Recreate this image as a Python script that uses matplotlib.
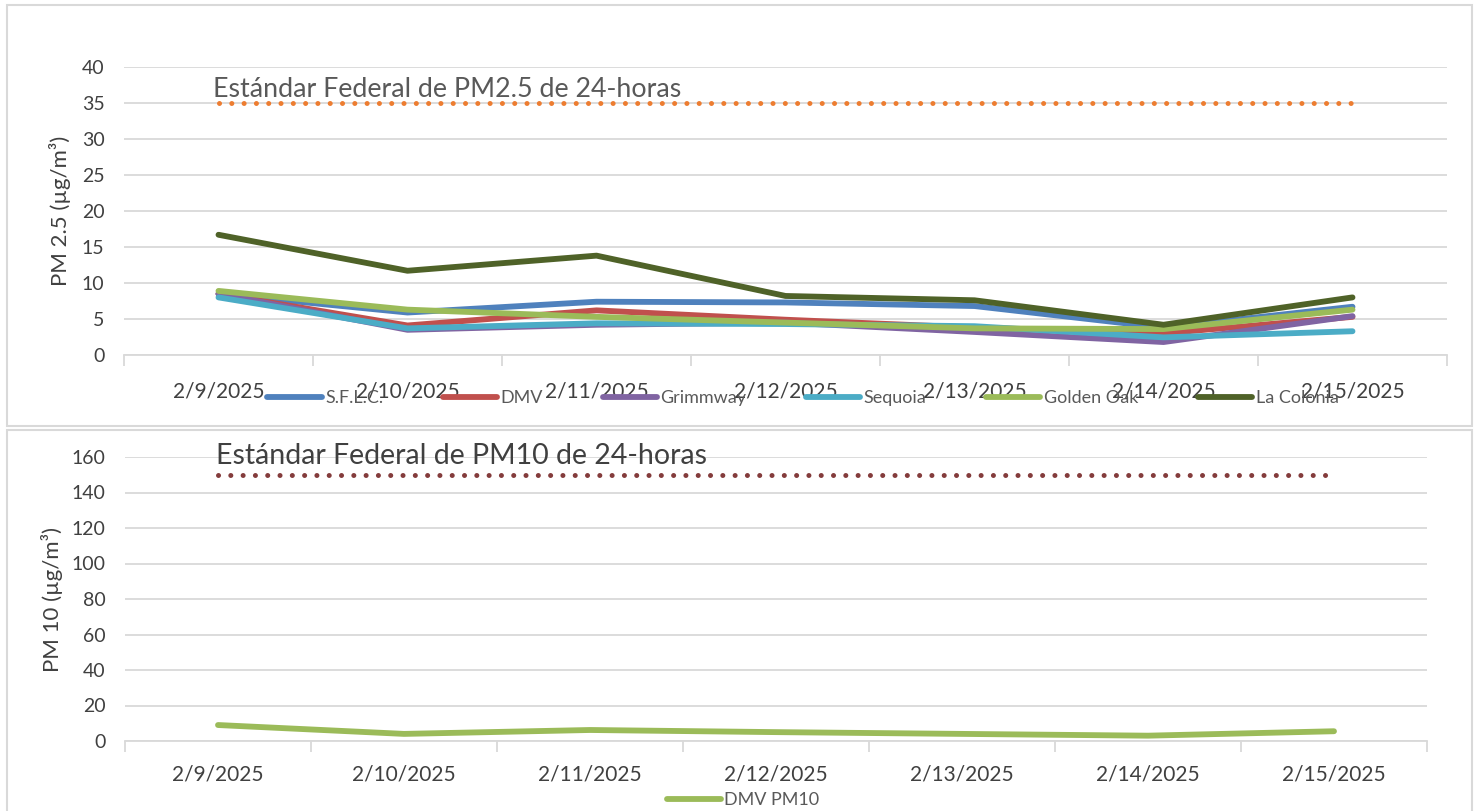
import matplotlib.pyplot as plt
from matplotlib.patches import Rectangle

plt.rcParams['font.family'] = ['Lato', 'DejaVu Sans']

dates = ['2/9/2025', '2/10/2025', '2/11/2025', '2/12/2025', '2/13/2025', '2/14/2025', '2/15/2025']

sflc = [8.5, 5.9, 7.4, 7.3, 6.8, 3.8, 6.7]
dmv = [8.5, 4.1, 6.2, 4.9, 3.8, 3.0, 5.3]
grimmway = [8.5, 3.5, 4.2, 4.5, 3.2, 1.8, 5.4]
sequoia = [8.0, 3.7, 4.4, 4.3, 4.0, 2.45, 3.3]
golden_oak = [8.9, 6.3, 5.3, 4.5, 3.7, 3.6, 6.3]
la_colonia = [16.7, 11.7, 13.8, 8.2, 7.6, 4.2, 8.0]

dmv_pm10 = [9.0, 4.0, 6.2, 5.0, 4.0, 3.0, 5.5]

pm25_std = 35
pm10_std = 150

W, H = 1477, 811
fig = plt.figure(figsize=(W / 100, H / 100), dpi=100)

grid_c = '#D9D9D9'
txt_c = '#404040'


def px_axes(left, top, right, bottom):
    return fig.add_axes([left / W, 1 - bottom / H, (right - left) / W, (bottom - top) / H])


# panel frames
fig.patches.append(Rectangle((7 / W, 1 - 426 / H), 1465 / W, 421 / H, transform=fig.transFigure,
                             fill=False, edgecolor=grid_c, lw=1.5))
fig.patches.append(Rectangle((7 / W, 1 - 815 / H), 1465 / W, 385 / H, transform=fig.transFigure,
                             fill=False, edgecolor=grid_c, lw=1.5))


def style(ax, ymax, step):
    ax.set_xlim(-0.5, 6.5)
    ax.set_ylim(0, ymax)
    ax.set_yticks(range(0, ymax + 1, step))
    ax.grid(axis='y', color=grid_c, lw=1.3)
    ax.set_axisbelow(True)
    for s in ['top', 'right', 'left']:
        ax.spines[s].set_visible(False)
    ax.spines['bottom'].set_color(grid_c)
    ax.spines['bottom'].set_linewidth(1.3)
    ax.set_xticks(range(7))
    ax.set_xticklabels(dates)
    ax.set_xticks([i - 0.5 for i in range(8)], minor=True)
    ax.tick_params(axis='x', which='major', length=0, labelsize=15, labelcolor=txt_c)
    ax.tick_params(axis='x', which='minor', length=8, color=grid_c, width=1.3)
    ax.tick_params(axis='y', length=0, labelsize=14, labelcolor=txt_c, pad=14)


x = list(range(7))
dots = (0, (0.01, 2.45))

# top panel
ax1 = px_axes(124, 67, 1447, 355)
style(ax1, 40, 5)
ax1.plot([0, 6], [pm25_std, pm25_std], color='#ED7D31', lw=3.6,
         linestyle=dots, dash_capstyle='round')
series = [('S.F.L.C.', sflc, '#4F81BD'), ('DMV', dmv, '#C0504D'),
          ('Grimmway', grimmway, '#8064A2'), ('Sequoia', sequoia, '#4BACC6'),
          ('Golden Oak', golden_oak, '#9BBB59'), ('La Colonia', la_colonia, '#4F6228')]
handles = []
for name, vals, c in series:
    ln, = ax1.plot(x, vals, color=c, lw=4.2, label=name, solid_capstyle='round')
    handles.append(ln)
ax1.text(-0.03, 36.9, 'Estándar Federal de PM2.5 de 24-horas', fontsize=19.3,
         color='#595959', va='center', ha='left')
ax1.set_ylabel('PM 2.5 (µg/m³)', fontsize=16, color=txt_c, labelpad=8)
ax1.xaxis.set_tick_params(pad=19)
fig.legend(handles=handles, loc='center', bbox_to_anchor=(803 / W, 1 - 398 / H), ncol=6,
           frameon=False, fontsize=13, labelcolor='#595959', handlelength=3.0,
           handletextpad=0.2, columnspacing=3.3)

# bottom panel
ax2 = px_axes(125, 457, 1427, 741)
style(ax2, 160, 20)
ax2.plot([0, 6], [pm10_std, pm10_std], color='#843C3C', lw=3.6,
         linestyle=dots, dash_capstyle='round')
ln2, = ax2.plot(x, dmv_pm10, color='#9BBB59', lw=4.2, label='DMV PM10', solid_capstyle='round')
ax2.text(-0.01, 160.5, 'Estándar Federal de PM10 de 24-horas', fontsize=20.5,
         color='#404040', va='center', ha='left')
ax2.set_ylabel('PM 10 (µg/m³)', fontsize=16, color=txt_c, labelpad=6)
ax2.xaxis.set_tick_params(pad=17)
fig.legend(handles=[ln2], loc='center', bbox_to_anchor=(743 / W, 1 - 800 / H), ncol=1,
           frameon=False, fontsize=13, labelcolor='#595959', handlelength=3.0,
           handletextpad=0.2)

fig.savefig('out.png', dpi=100)
